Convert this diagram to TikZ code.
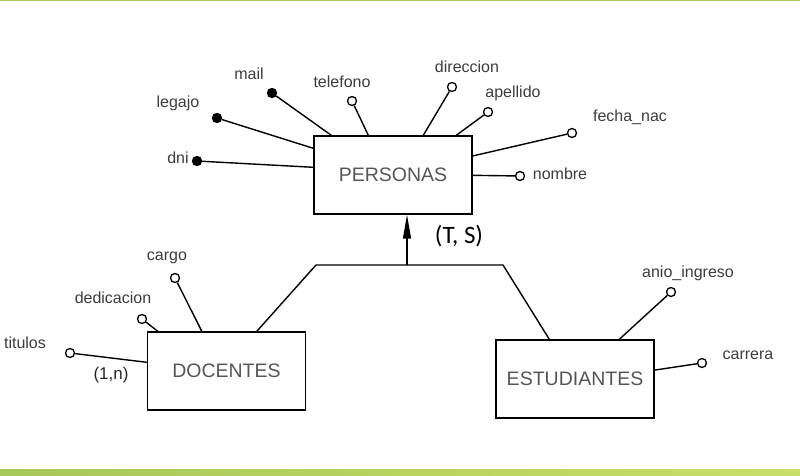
\documentclass[tikz,border=0pt]{standalone}
\usepackage{fontspec}
\setmainfont{Liberation Sans}
\newfontfamily\calib{Carlito}
\usetikzlibrary{arrows.meta}
\definecolor{verde}{RGB}{166,200,88}
\definecolor{verdeclaro}{RGB}{200,222,104}
\definecolor{texto}{RGB}{60,60,60}
\definecolor{caja}{RGB}{85,85,85}

\begin{document}
\begin{tikzpicture}[x=1pt,y=-1pt,
	entidad/.style={draw,line width=1.4pt,minimum width=158pt,minimum height=78pt,inner sep=0pt,text=caja,font=\fontsize{19.5}{20}\selectfont},
	atr/.style={draw,circle,line width=1.3pt,inner sep=0pt,minimum size=9pt},
	rotulo/.style={text=texto,font=\fontsize{16}{16}\selectfont,inner sep=0pt},
	linea/.style={line width=1.4pt}]

	\useasboundingbox (0,0) rectangle (800,476);
	\fill[verde] (0,0) rectangle (800,1.5);
	\shade[left color=verde,right color=verdeclaro] (0,469) rectangle (800,476);

	\node[entidad] (personas) at (393,175) {PERSONAS};
	\node[entidad] (docentes) at (226.5,371) {DOCENTES};
	\node[entidad] (estudiantes) at (575,379) {ESTUDIANTES};

	% atributos: id/texto/relleno/punto/rotulo/entidad/desplazamiento
	\foreach \id/\txt/\f/\x/\y/\lx/\ly/\e/\dx/\dy in {
		dni/dni/black/197/161/178/158/personas/0/32,
		leg/legajo/black/217/118/178/103/personas/0/13,
		mail/mail/black/272/93/249/74/personas/18/0,
		tel/telefono/white/352/101/342/82/personas/55/0,
		dir/direccion/white/452/87/467/67/personas/110/0,
		ape/apellido/white/488/112/513/93/personas/143/0,
		fnac/fecha\_nac/white/572/133/630/117/personas/158/21,
		nom/nombre/white/520/176/560/174/personas/158/40,
		cargo/cargo/white/175/278/167/258/docentes/55/0,
		ded/dedicacion/white/142/319/113/298/docentes/11/0,
		tit/titulos/white/70/353/25/343/docentes/0/31,
		anio/anio\_ingreso/white/671/292/688/273/estudiantes/124/0,
		carr/carrera/white/702/363/748/355/estudiantes/158/31}
{
	\node[atr,fill=\f] (a-\id) at (\x,\y) {};
	\node[rotulo] (l-\id) at (\lx,\ly) {\txt};
	\draw[linea] (a-\id) -- ([shift={(\dx,\dy)}]\e.north west);
}

	\node[rotulo,text=black!85,font=\fontsize{17}{17}\selectfont] (card) at (111,375) {(1,n)};

	\coordinate (jl) at (316,265);
	\coordinate (jr) at (503,265);
	\coordinate (base) at (407,265);
	\draw[linea] ([xshift=110pt]docentes.north west) -- (jl) -- (jr) -- ([xshift=54pt]estudiantes.north west);
	\draw[linea,-{Triangle[length=24pt,width=8pt]}] (base) -- ([xshift=14pt]personas.south);
	\node[font=\calib\fontsize{25}{25}\selectfont,inner sep=0pt] (ts) at (459,236) {(T, S)};

\end{tikzpicture}
\end{document}
